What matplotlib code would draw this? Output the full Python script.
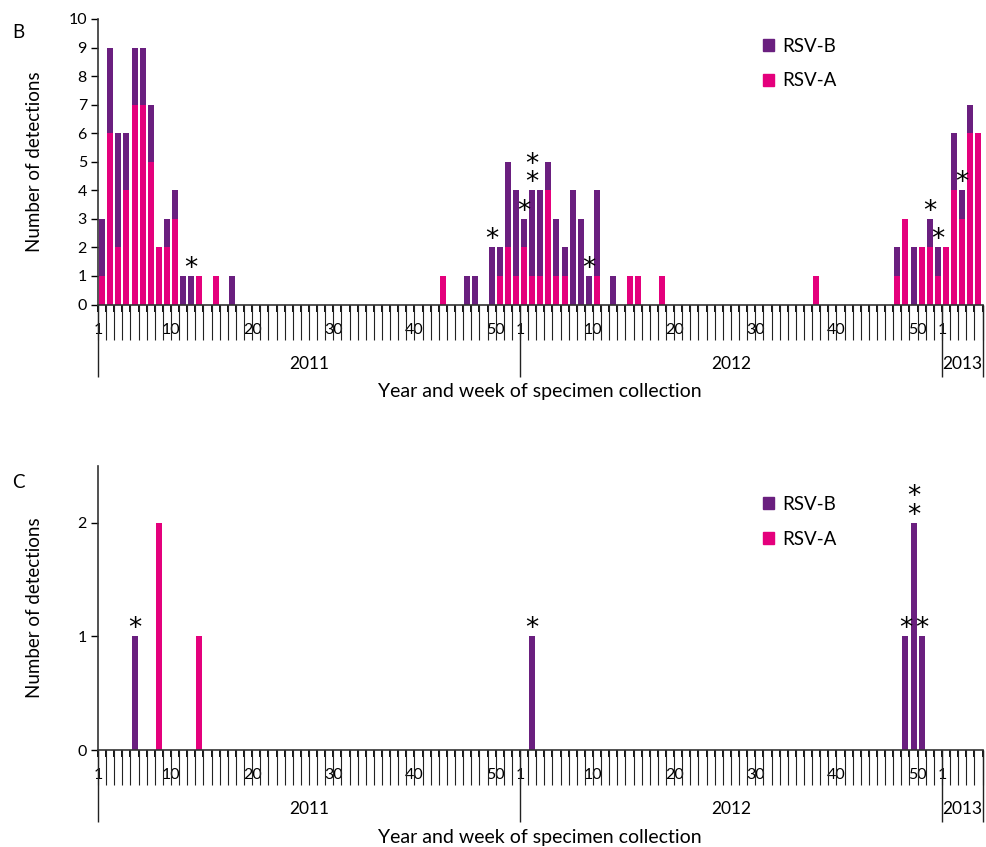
import numpy as np
import matplotlib
matplotlib.use('agg')
import matplotlib.pyplot as plt
from matplotlib.patches import Patch

plt.rcParams['font.family'] = ['Lato', 'DejaVu Sans']

# = = = = = = = = = = =
# weekly RSV detections, 2011 wk1 .. 2013 wk5 (only weeks with detections listed)

years = [2011, 2012, 2013]
weeks_per_year = [52, 52, 5]
week_labels = [1, 10, 20, 30, 40, 50]

# panel B
b_year = [2011] * 22 + [2012] * 21 + [2013] * 5
b_week = [1, 2, 3, 4, 5, 6, 7, 8, 9, 10, 11, 12, 13, 15, 17, 43, 46, 47, 49, 50, 51, 52,
          1, 2, 3, 4, 5, 6, 7, 8, 9, 10, 12, 14, 15, 18, 37, 47, 48, 49, 50, 51, 52,
          1, 2, 3, 4, 5]
b_rsv_a = [1, 6, 2, 4, 7, 7, 5, 2, 2, 3, 0, 0, 1, 1, 0, 1, 0, 0, 0, 1, 2, 1,
           2, 1, 1, 4, 1, 1, 0, 0, 0, 1, 0, 1, 1, 1, 1, 1, 3, 0, 2, 2, 1,
           2, 4, 3, 6, 6]
b_rsv_b = [2, 3, 4, 2, 2, 2, 2, 0, 1, 1, 1, 1, 0, 0, 1, 0, 1, 1, 2, 1, 3, 3,
           1, 3, 3, 1, 2, 1, 4, 3, 1, 3, 1, 0, 0, 0, 0, 1, 0, 2, 0, 1, 1,
           0, 2, 1, 1, 0]
# (year, week, number of asterisks)
b_marks = [(2011, 12, 1), (2011, 49, 1), (2012, 1, 1), (2012, 2, 2), (2012, 9, 1),
           (2012, 51, 1), (2012, 52, 1), (2013, 3, 1)]

# panel C
c_year = [2011, 2011, 2011, 2012, 2012, 2012, 2012]
c_week = [5, 8, 13, 2, 48, 49, 50]
c_rsv_a = [0, 2, 1, 0, 0, 0, 0]
c_rsv_b = [1, 0, 0, 1, 1, 2, 1]
c_marks = [(2011, 5, 1), (2012, 2, 1), (2012, 48, 1), (2012, 49, 2), (2012, 50, 1)]

col_a = '#e4007c'
col_b = '#6a1f7f'

# = = = = = = = = = = =

offsets = dict(zip(years, np.cumsum([0] + weeks_per_year[:-1])))
n_weeks = sum(weeks_per_year)


def week_index(year, week):
    return offsets[year] + week - 1


def to_series(yrs, wks, vals):
    out = np.zeros(n_weeks)
    for y, w, v in zip(yrs, wks, vals):
        out[week_index(y, w)] = v
    return out


def draw_panel(ax, rsv_a, rsv_b, marks, ymax, yticks, legend_y):
    x = np.arange(n_weeks)
    ax.bar(x, rsv_a, width=0.74, color=col_a, linewidth=0)
    ax.bar(x, rsv_b, width=0.74, bottom=rsv_a, color=col_b, linewidth=0)

    for y, w, n in marks:
        i = week_index(y, w)
        top = rsv_a[i] + rsv_b[i]
        ax.annotate('\n'.join(['*'] * n), xy=(i, top), xytext=(0, 0),
                    textcoords='offset points', ha='center', va='baseline',
                    fontsize=19, linespacing=0.64, family='DejaVu Sans')

    ax.set_xlim(-0.5, n_weeks - 0.5)
    ax.set_ylim(0, ymax)
    ax.set_yticks(yticks)
    ax.tick_params(axis='y', length=5, width=1, labelsize=11.5, pad=3)
    for s in ['top', 'right']:
        ax.spines[s].set_visible(False)
    for s in ['left', 'bottom']:
        ax.spines[s].set_linewidth(1.2)
        ax.spines[s].set_color('#333333')

    # category boundaries with week labels on the left edge of their slot
    bounds = np.arange(-0.5, n_weeks, 1.0)
    labels = [''] * len(bounds)
    for y, nw in zip(years, weeks_per_year):
        for w in week_labels:
            if w <= nw:
                labels[week_index(y, w)] = str(w)
    ax.set_xticks(bounds)
    ax.set_xticklabels(labels)
    ax.tick_params(axis='x', length=5, width=1.3, labelsize=11.5, pad=8)

    h = ax.get_position().height * fig.get_size_inches()[1] * fig.dpi
    ax.vlines(bounds, -35 / h, 0, transform=ax.get_xaxis_transform(),
              colors='#222222', linewidth=0.8, clip_on=False)
    seps = [offsets[y] - 0.5 for y in years] + [n_weeks - 0.5]
    ax.vlines(seps, -72 / h, 0, transform=ax.get_xaxis_transform(),
              colors='#222222', linewidth=1.0, clip_on=False)
    for y, nw in zip(years, weeks_per_year):
        ax.text(offsets[y] + (nw - 1) / 2, -59 / h, str(y), transform=ax.get_xaxis_transform(),
                ha='center', va='center', fontsize=12.5)
    ax.text(0.5, -87 / h, 'Year and week of specimen collection', transform=ax.transAxes,
            ha='center', va='center', fontsize=14)
    ax.text(-63 / 884.5, 0.5, 'Number of detections', transform=ax.transAxes,
            rotation=90, ha='center', va='center', fontsize=13.5)

    handles = [Patch(color=col_b, label='RSV-B'), Patch(color=col_a, label='RSV-A')]
    ax.legend(handles=handles, loc='upper left', bbox_to_anchor=(0.752, legend_y),
              frameon=False, fontsize=13.5, handlelength=0.6, handleheight=0.6,
              handletextpad=0.4, labelspacing=0.95, borderpad=0, borderaxespad=0)


fig = plt.figure(figsize=(9.86, 8.47), dpi=100)
ax_b = fig.add_axes([98 / 986, (847 - 304.5) / 847, 884.5 / 986, 285.5 / 847])
ax_c = fig.add_axes([98 / 986, (847 - 750) / 847, 884.5 / 986, 284 / 847])

draw_panel(ax_b, to_series(b_year, b_week, b_rsv_a), to_series(b_year, b_week, b_rsv_b),
           b_marks, 10, range(0, 11), 0.935)
draw_panel(ax_c, to_series(c_year, c_week, c_rsv_a), to_series(c_year, c_week, c_rsv_b),
           c_marks, 2.5, [0, 1, 2], 0.895)

fig.text(12 / 986, 1 - 33 / 847, 'B', fontsize=13.5, va='center')
fig.text(12 / 986, 1 - 482 / 847, 'C', fontsize=13.5, va='center')

fig.savefig('out.png', dpi=100)
